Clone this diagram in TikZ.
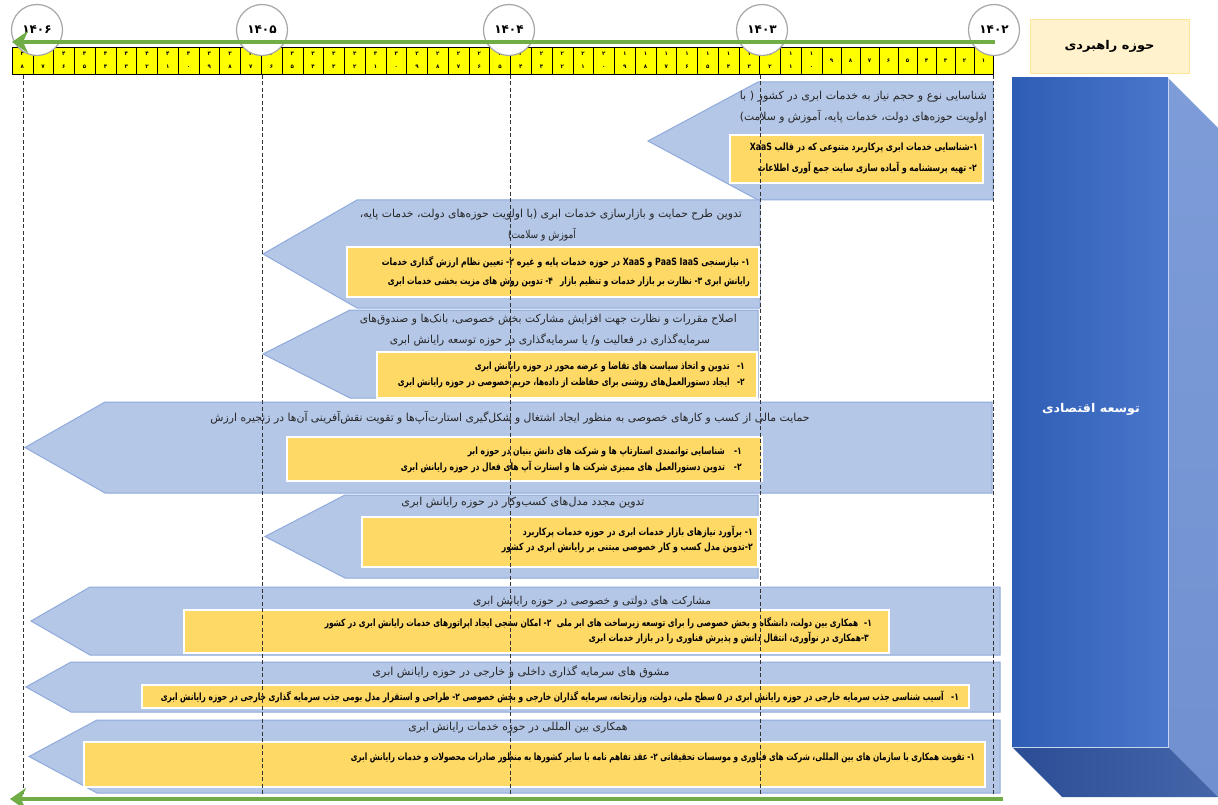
\documentclass[tikz,border=0pt]{standalone}
\usepackage{fontspec}
\usepackage{graphicx}
\usetikzlibrary{arrows.meta}
\TeXXeTstate=1
\newfontfamily\farsi[Script=Arabic]{DejaVu Sans}
\definecolor{cellyellow}{HTML}{FFFF00}
\definecolor{circgray}{HTML}{A6A6A6}
\definecolor{arrowfill}{HTML}{B4C7E7}
\definecolor{arrowedge}{HTML}{8FAADC}
\definecolor{boxyellow}{HTML}{FFD966}
\definecolor{greenline}{HTML}{70AD47}
\definecolor{hdrfill}{HTML}{FFF2CC}
\definecolor{hdredge}{HTML}{FFE699}
\definecolor{frontL}{HTML}{2E5DB5}
\definecolor{frontR}{HTML}{4A77CB}
\definecolor{sideT}{HTML}{7D9CD8}
\definecolor{sideB}{HTML}{7090D0}
\definecolor{botL}{HTML}{2A4D95}
\definecolor{botR}{HTML}{4566A9}
\newcommand\fitw[2]{\resizebox{#1pt}{\height}{#2}}
\newcommand\pdig[1]{\char\numexpr"06F0+#1\relax}
\newcommand\blockarrow[5]{\draw[arrowbox] (#1,#2) -- (#4,#2) -- (#5,{(#2+#3)/2}) -- (#4,#3) -- (#1,#3) -- cycle;}
\begin{document}
\begin{tikzpicture}[x=1pt,y=-1pt,
  cell/.style={draw=black,line width=0.4pt,fill=cellyellow,minimum height=27pt,inner sep=0pt},
  mdig/.style={inner sep=0pt,font=\farsi\bfseries\fontsize{5.5}{6}\selectfont},
  yearc/.style={circle,draw=circgray,line width=1.2pt,fill=white,minimum size=51pt,inner sep=0pt,font=\farsi\bfseries\fontsize{12}{14}\selectfont},
  arrowbox/.style={fill=arrowfill,draw=arrowedge,line width=1pt,line join=miter},
  ybox/.style={fill=boxyellow,draw=white,line width=1.2pt},
  ttl/.style={inner sep=0pt,font=\farsi\fontsize{11}{12}\selectfont,text=black!85},
  itm/.style={inner sep=0pt,font=\farsi\bfseries\fontsize{10}{11}\selectfont},
  dashline/.style={dash pattern=on 4pt off 2.5pt,line width=0.8pt,draw=black!80},
  greenarrow/.style={draw=greenline,line width=4pt,-{Stealth[length=16pt,width=22pt,inset=5pt]}},
]
\useasboundingbox (0,0) rectangle (1218,805);

% ---------- month cells ----------
\foreach \m in {1,...,9}{
  \pgfmathsetmacro\xc{993-19*(\m-1)-9.5}
  \node[cell,minimum width=19pt] (m\m) at (\xc,60.5) {};
  \node[mdig] at (\xc,60.5) {\pdig{\m}};
}
\foreach \m in {10,...,48}{
  \pgfmathsetmacro\xc{822-20.77*(\m-10)-10.385}
  \pgfmathtruncatemacro\tens{\m/10}
  \pgfmathtruncatemacro\ones{\m-10*\tens}
  \node[cell,minimum width=20.77pt] (m\m) at (\xc,60.5) {};
  \node[mdig] at (\xc,53.5) {\pdig{\tens}};
  \node[mdig] at (\xc,67) {\pdig{\ones}};
}

% ---------- year circles ----------
\node[yearc] (y1406) at (37,30) {۱۴۰۶};
\node[yearc] (y1405) at (262,30) {۱۴۰۵};
\node[yearc] (y1404) at (509,30) {۱۴۰۴};
\node[yearc] (y1403) at (762,30) {۱۴۰۳};
\node[yearc] (y1402) at (994,30) {۱۴۰۲};

% ---------- top green arrow ----------
\coordinate (gtS) at (995,42);
\coordinate (gtE) at (12,42);
\draw[greenarrow] (gtS) -- (gtE);

% ---------- header ----------
\node[draw=hdredge,fill=hdrfill,line width=0.8pt,minimum width=159pt,minimum height=54pt,inner sep=0pt,
  font=\farsi\bfseries\fontsize{12}{14}\selectfont] (hdr) at (1109.5,46) {\fitw{90}{\beginR حوزه راهبردی\endR}};

% ---------- 3D block ----------
\shade[left color=frontL,right color=frontR] (1012,78) rectangle (1168,747);
\shade[top color=sideT,bottom color=sideB] (1168,78) -- (1218,128) -- (1218,797) -- (1168,747) -- cycle;
\shade[left color=botL,right color=botR] (1012,747) -- (1168,747) -- (1218,797) -- (1062,797) -- cycle;
\draw[white!70!frontR,line width=0.8pt] (1168,78) -- (1168,747) -- (1012,747);
\node[inner sep=0pt,text=white,font=\farsi\bfseries\fontsize{12}{14}\selectfont] (econ) at (1091,409) {\fitw{98}{\beginR توسعه اقتصادی\endR}};

% ---------- arrow 1 ----------
\blockarrow{993}{82}{200}{758}{648}
\node[ttl,anchor=east] (t1a) at (987,97) {\fitw{247}{\beginR شناسایی نوع و حجم نیاز به خدمات ابری در کشور ( با\endR}};
\node[ttl,anchor=east] (t1b) at (987,117) {\fitw{247}{\beginR اولویت حوزه^^^^200cهای دولت، خدمات پایه، آموزش و سلامت)\endR}};
\draw[ybox] (730,135) rectangle (983,183);
\node[itm,anchor=east] (b1a) at (978,148) {\fitw{228}{\beginR ۱-شناسایی خدمات ابری پرکاربرد متنوعی که در قالب \beginL XaaS\endL\endR}};
\node[itm,anchor=east] (b1b) at (977,168) {\fitw{219}{\beginR ۲- تهیه پرسشنامه و آماده سازی سایت جمع آوری اطلاعات\endR}};

% ---------- arrow 2 ----------
\blockarrow{760}{200}{308}{357}{263}
\node[ttl,anchor=east] (t2a) at (742,215) {\fitw{382}{\beginR تدوین طرح حمایت و بازارسازی خدمات ابری (با اولویت حوزه^^^^200cهای دولت، خدمات پایه،\endR}};
\node[ttl] (t2b) at (542,235) {\fitw{68}{\beginR آموزش و سلامت)\endR}};
\draw[ybox] (347,247) rectangle (759,297);
\node[itm,anchor=east] (b2a) at (750,262) {\fitw{368}{\beginR ۱- نیازسنجی \beginL PaaS IaaS\endL{} و \beginL XaaS\endL{} در حوزه خدمات پایه و غیره ۲- تعیین نظام ارزش گذاری خدمات\endR}};
\node[itm,anchor=east] (b2b) at (750,282) {\fitw{362}{\beginR رایانش ابری ۳- نظارت بر بازار خدمات و تنظیم بازار \hspace{6pt}۴- تدوین روش های مزیت بخشی خدمات ابری\endR}};

% ---------- arrow 3 ----------
\blockarrow{758}{310}{398}{350}{263}
\node[ttl,anchor=east] (t3a) at (737,320) {\fitw{377}{\beginR اصلاح مقررات و نظارت جهت افزایش مشارکت بخش خصوصی، بانک^^^^200cها و صندوق^^^^200cهای\endR}};
\node[ttl] (t3b) at (550,340) {\fitw{320}{\beginR سرمایه^^^^200cگذاری در فعالیت و/ یا سرمایه^^^^200cگذاری در حوزه توسعه رایانش ابری\endR}};
\draw[ybox] (377,352) rectangle (757,398);
\node[itm,anchor=east] (b3a) at (745,367) {\fitw{270}{\beginR ۱-\hspace{10pt}تدوین و اتخاذ سیاست های تقاضا و عرضه محور در حوزه رایانش ابری\endR}};
\node[itm,anchor=east] (b3b) at (745,383) {\fitw{347}{\beginR ۲-\hspace{10pt}ایجاد دستورالعمل^^^^200cهای روشنی برای حفاظت از داده^^^^200cها، حریم خصوصی در حوزه رایانش ابری\endR}};

% ---------- arrow 4 ----------
\blockarrow{992}{402}{493}{105}{25}
\node[ttl] (t4) at (510,418) {\fitw{599}{\beginR حمایت مالی از کسب و کارهای خصوصی به منظور ایجاد اشتغال و شکل^^^^200cگیری استارت^^^^200cآپ^^^^200cها و تقویت نقش^^^^200cآفرینی آن^^^^200cها در زنجیره ارزش\endR}};
\draw[ybox] (287,437) rectangle (762,481);
\node[itm,anchor=east] (b4a) at (742,452) {\fitw{274}{\beginR ۱-\hspace{12pt}شناسایی توانمندی استارتاپ ها و شرکت های دانش بنیان در حوزه ابر\endR}};
\node[itm,anchor=east] (b4b) at (742,467) {\fitw{341}{\beginR ۲-\hspace{12pt}تدوین دستورالعمل های ممیزی شرکت ها و استارت آپ های فعال در حوزه رایانش ابری\endR}};

% ---------- arrow 5 ----------
\blockarrow{758}{495}{578}{345}{265}
\node[ttl] (t5) at (523,503) {\fitw{243}{\beginR تدوین مجدد مدل^^^^200cهای کسب^^^^200cوکار در حوزه رایانش ابری\endR}};
\draw[ybox] (362,517) rectangle (758,567);
\node[itm,anchor=east] (b5a) at (753,532) {\fitw{230}{\beginR ۱- برآورد نیازهای بازار خدمات ابری در حوزه خدمات پرکاربرد\endR}};
\node[itm,anchor=east] (b5b) at (753,548) {\fitw{251}{\beginR ۲-تدوین مدل کسب و کار خصوصی مبتنی بر رایانش ابری در کشور\endR}};

% ---------- arrow 6 ----------
\blockarrow{1000}{587}{655}{90}{31}
\node[ttl] (t6) at (592,602) {\fitw{238}{\beginR مشارکت های دولتی و خصوصی در حوزه رایانش ابری\endR}};
\draw[ybox] (184,610) rectangle (889,653);
\node[itm,anchor=east] (b6a) at (872,623) {\fitw{547}{\beginR ۱-\hspace{8pt}همکاری بین دولت، دانشگاه و بخش خصوصی را برای توسعه زیرساخت های ابر ملی \hspace{4pt}۲- امکان سنجی ایجاد اپراتورهای خدمات رایانش ابری در کشور\endR}};
\node[itm,anchor=east] (b6b) at (869,638) {\fitw{280}{\beginR ۳-همکاری در نوآوری، انتقال دانش و پذیرش فناوری را در بازار خدمات ابری\endR}};

% ---------- arrow 7 ----------
\blockarrow{1000}{662}{712}{71}{26}
\node[ttl] (t7) at (521,672) {\fitw{297}{\beginR مشوق های سرمایه گذاری داخلی و خارجی در حوزه رایانش ابری\endR}};
\draw[ybox] (142,685) rectangle (969,708);
\node[itm,anchor=east] (b7) at (959,697) {\fitw{798}{\beginR ۱-\hspace{10pt}آسیب شناسی جذب سرمایه خارجی در حوزه رایانش ابری در ۵ سطح ملی، دولت، وزارتخانه، سرمایه گذاران خارجی و بخش خصوصی ۲- طراحی و استقرار مدل بومی جذب سرمایه گذاری خارجی در حوزه رایانش ابری\endR}};

% ---------- arrow 8 ----------
\blockarrow{1000}{720}{793}{97}{29}
\node[ttl] (t8) at (518,728) {\fitw{219}{\beginR همکاری بین المللی در حوزه خدمات رایانش ابری\endR}};
\draw[ybox] (84,742) rectangle (985,787);
\node[itm,anchor=east] (b8) at (975,758) {\fitw{624}{\beginR ۱- تقویت همکاری با سازمان های بین المللی، شرکت های فناوری و موسسات تحقیقاتی ۲- عقد تفاهم نامه با سایر کشورها به منظور صادرات محصولات و خدمات رایانش ابری\endR}};

% ---------- dashed year lines ----------
\foreach \yr/\xx in {1406/23,1405/262,1404/510,1403/760,1402/993}{
  \coordinate (d\yr t) at (\xx,75);
  \coordinate (d\yr b) at (\xx,798);
  \draw[dashline] (d\yr t) -- (d\yr b);
}

% ---------- bottom green arrow ----------
\coordinate (gbS) at (1003,799);
\coordinate (gbE) at (10,799);
\draw[greenarrow] (gbS) -- (gbE);
\end{tikzpicture}
\end{document}
